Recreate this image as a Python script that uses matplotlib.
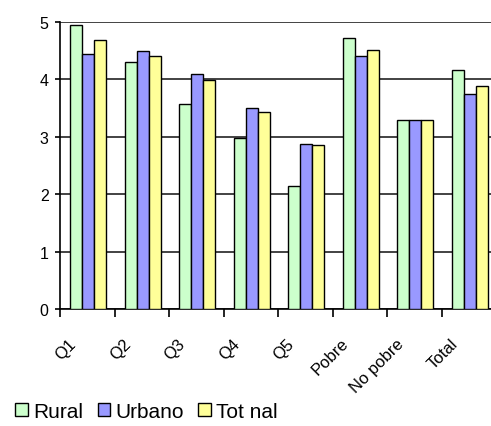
import matplotlib.pyplot as plt
import matplotlib.transforms as mtransforms
import numpy as np

categories = ['Q1', 'Q2', 'Q3', 'Q4', 'Q5', 'Pobre', 'No pobre', 'Total']
rural = [4.94, 4.31, 3.58, 2.98, 2.15, 4.72, 3.29, 4.17]
urbano = [4.44, 4.49, 4.10, 3.51, 2.88, 4.41, 3.29, 3.75]
tot_nal = [4.69, 4.41, 3.99, 3.44, 2.85, 4.52, 3.29, 3.89]
series_names = ['Rural', 'Urbano', 'Tot nal']
colors = ['#CCFFCC', '#9999FF', '#FFFF99']

plt.rcParams['font.family'] = ['Liberation Sans', 'DejaVu Sans']

fig = plt.figure(figsize=(4.91, 4.27), dpi=100)
ax = fig.add_axes([60 / 491, 117 / 427, 436 / 491, 287 / 427])

x = np.arange(len(categories))
w = 0.22
handles = []
for i, (vals, name, col) in enumerate(zip([rural, urbano, tot_nal], series_names, colors)):
    b = ax.bar(x + (i - 1) * w + 0.02, vals, width=w, color=col, edgecolor='black',
               linewidth=1.0, label=name, zorder=3)
    handles.append(b)

ax.set_xlim(-0.5, len(categories) - 0.5)
ax.set_ylim(0, 5)
ax.set_yticks([0, 1, 2, 3, 4, 5])
ax.yaxis.grid(True, color='#222222', linewidth=1.2, zorder=0)
ax.set_axisbelow(True)

for s in ['top', 'right']:
    ax.spines[s].set_visible(False)
ax.spines['left'].set_linewidth(1.2)
ax.spines['bottom'].set_linewidth(1.2)

ax.set_xticks(x)
ax.set_xticks(np.arange(-0.5, len(categories), 1), minor=True)
ax.tick_params(axis='x', which='major', length=0, pad=19)
ax.tick_params(axis='x', which='minor', length=5.8, width=1.2)
ax.tick_params(axis='y', length=3.6, width=1.2, labelsize=11.5, pad=4.5)
ax.set_xticklabels(categories, rotation=45, ha='right', fontsize=12)
offset = mtransforms.ScaledTranslation(-8 / 100, 0, fig.dpi_scale_trans)
for lab in ax.get_xticklabels():
    lab.set_transform(lab.get_transform() + offset)

fig.legend(handles=handles, labels=series_names, loc='lower left',
           bbox_to_anchor=(0.01, -0.012), ncol=3, frameon=False, fontsize=15,
           handlelength=0.6, handleheight=0.6, handletextpad=0.25,
           columnspacing=0.7, borderaxespad=0.1)

fig.savefig('out.png', dpi=100)
